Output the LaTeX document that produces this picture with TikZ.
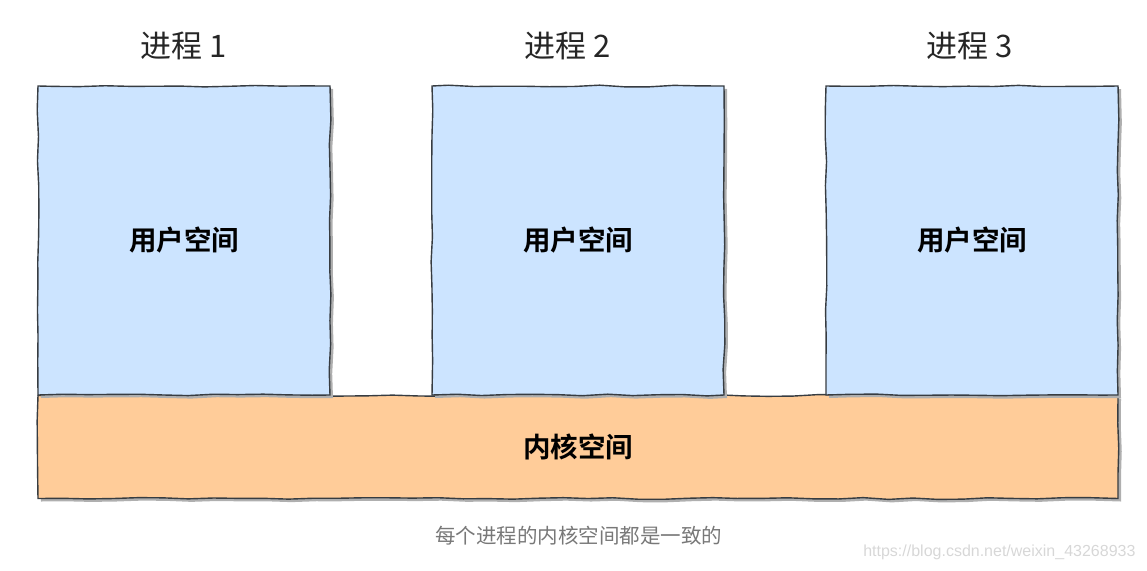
\documentclass[tikz,border=0pt]{standalone}
\usepackage{fontspec}
\setmainfont{Liberation Sans}
\newfontfamily\cjk{Noto Sans CJK SC}
\newfontfamily\cjkb{Noto Sans CJK SC Bold}
\usetikzlibrary{decorations.pathmorphing,shadows}
\definecolor{userblue}{RGB}{204,228,255}
\definecolor{kernorange}{RGB}{255,204,153}
\definecolor{edge}{RGB}{55,60,65}
\definecolor{shade}{RGB}{175,175,175}
\definecolor{captiongray}{RGB}{120,120,120}
\definecolor{markgray}{RGB}{215,215,215}
\tikzset{
  sketchbox/.style={draw=edge, line width=1.4pt, decorate,
    decoration={random steps, segment length=25pt, amplitude=0.9pt},
    drop shadow={shadow xshift=3pt, shadow yshift=-3pt, fill=shade, opacity=1},
    inner sep=0pt, font=\cjkb\fontsize{27.5}{32}\selectfont},
  userbox/.style={sketchbox, fill=userblue, minimum width=292pt, minimum height=309pt},
  kernbox/.style={sketchbox, fill=kernorange, minimum width=1080pt, minimum height=103pt},
  titletext/.style={font=\cjk\fontsize{31}{36}\selectfont, text=black!85},
}
\begin{document}
\begin{tikzpicture}[x=1pt,y=-1pt]
\pgfmathsetseed{7}
\useasboundingbox (0,0) rectangle (1147,570);
\node[kernbox] (kern) at (578,447) {内核空间};
\node[userbox] (u1) at (184,240.5) {用户空间};
\node[userbox] (u2) at (578,240.5) {用户空间};
\node[userbox] (u3) at (972,240.5) {用户空间};
\node[titletext] (t1) at (184,46) {进程 1};
\node[titletext] (t2) at (568,46) {进程 2};
\node[titletext] (t3) at (970,46) {进程 3};
\node[font=\cjk\fontsize{20.5}{24}\selectfont, text=captiongray] (cap) at (578.5,536) {每个进程的内核空间都是一致的};
\node[font=\fontsize{16}{18}\selectfont, text=markgray, anchor=east] (wm) at (1139,552) {https://blog.csdn.net/weixin\_43268933};
\end{tikzpicture}
\end{document}
